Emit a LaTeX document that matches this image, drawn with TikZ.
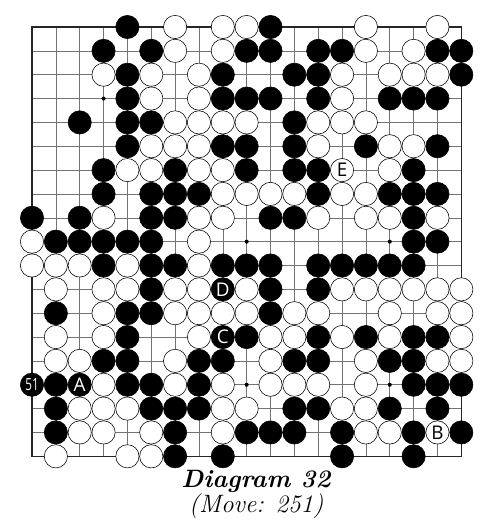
\documentclass[tikz,border=0pt]{standalone}
\usepackage{fontspec}
\newfontfamily\pietrafont{Open Sans}
\tikzset{
  pietra/.style={circle,inner sep=0pt,minimum size=5.85mm,line width=0.4pt},
  nera/.style={pietra,draw=black,fill=black},
  bianca/.style={pietra,draw=black,fill=white},
  lettera/.style={font=\pietrafont\fontsize{13.5}{14}\selectfont}
}

\begin{document}
\begin{tikzpicture}[
    x=0.6cm, y=-0.6cm,
    griglia/.style    = {line width=0.4pt, black!55},
    bordo/.style      = {line width=1.1pt, black!85},
    didascalia/.style = {font=\fontsize{18}{20}\selectfont, inner sep=0pt}
]
\useasboundingbox (-1.342,-1.132) rectangle (19.79,20.797);

% ---- griglia ----
\foreach \i in {0,...,18}{
    \draw[griglia] (\i,0) -- (\i,18);
    \draw[griglia] (0,\i) -- (18,\i);
}
\draw[bordo] (0,0) rectangle (18,18);

% ---- hoshi ----
\foreach \c in {3,9,15}{
    \foreach \r in {3,9,15}{
        \fill (\c,\r) circle[radius=0.085];
    }
}

% ---- pietre nere ----
\foreach \r/\cc in {0/{4,10}, 1/{3,5,9,10,12,13,17,18}, 2/{4,8,11,12,18},
    3/{4,8,9,10,12,15,16,17}, 4/{2,4,5,11}, 5/{4,8,9,11,14,17},
    6/{3,6,9,11,12,16}, 7/{3,5,6,7,12,15,16,17}, 8/{0,2,5,6,10,11,16},
    9/{1,2,3,4,5,16,17}, 10/{3,5,6,8,9,10,12,13,14,15,16}, 11/{5,10,12},
    12/{1,4,5,10}, 13/{4,9,12,14,16,17}, 14/{3,4,7,8,11,12,15,16},
    15/{1,4,5,7,16,17,18}, 16/{1,5,6,7,11,12,15,17},
    17/{1,6,9,10,11,13,16,18}, 18/{6,8,13,16}}{
    \foreach \c in \cc{
        \node[nera] (n-\c-\r) at (\c,\r) {};
    }
}

% ---- pietre bianche ----
\foreach \r/\cc in {0/{6,8,9,14,17}, 1/{6,8,14,16}, 2/{3,5,7,13,15,16,17},
    3/{5,7,13}, 4/{6,7,8,9,12,13,14}, 5/{5,6,7,12,15,16},
    6/{4,5,7,8,15}, 7/{8,9,10,11,13,14}, 8/{3,7,8,12,14,15,17},
    9/{0,7}, 10/{0,1,2,4,7}, 11/{1,3,4,6,7,9,13,14,15,16,17,18},
    12/{3,6,7,8,9,11,12,15,17,18}, 13/{1,3,7,10,11,13,15,18},
    14/{1,2,6,10,14,17,18}, 15/{3,6,8,10,11,12,14},
    16/{2,3,4,8,9,13,14}, 17/{2,3,5,8,14,15}, 18/{1,4,5}}{
    \foreach \c in \cc{
        \node[bianca] (b-\c-\r) at (\c,\r) {};
    }
}

% ---- pietre con lettera ----
\node[bianca,lettera] (b-13-6) at (13,6) {E};
\node[nera,lettera,text=white] (n-8-11) at (8,11) {D};
\node[nera,lettera,text=white] (n-8-13) at (8,13) {C};
\node[nera,lettera,text=white] (n-2-15) at (2,15) {A};
\node[bianca,lettera] (b-17-17) at (17,17) {B};
\node[nera,font=\pietrafont\fontsize{12}{12}\selectfont,text=white]
    (n-0-15) at (0,15) {\scalebox{0.7}[1]{51}};

% ---- didascalia ----
\node[didascalia] (titolo) at (9.4,19.05) {\textbf{\textit{Diagram 32}}};
\node[didascalia] (mossa) at (9.4,20.1) {\textit{(Move: 251)}};

\end{tikzpicture}
\end{document}
